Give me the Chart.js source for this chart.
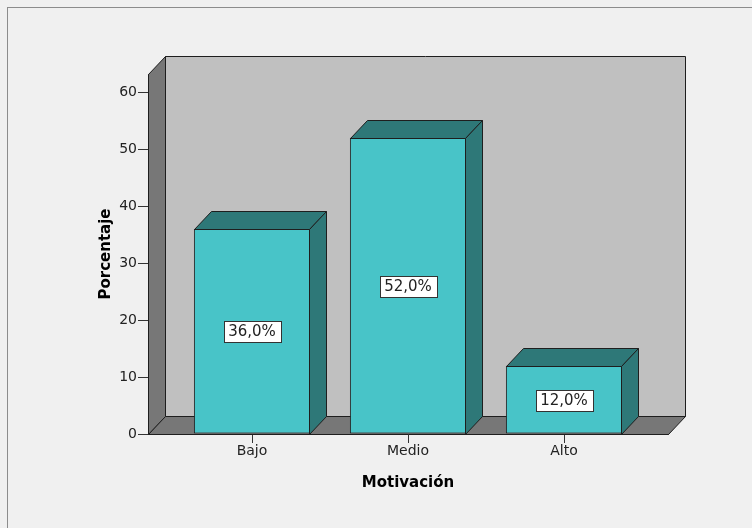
<!DOCTYPE html>
<html>
<head>
<meta charset="utf-8">
<script src="https://cdn.jsdelivr.net/npm/chart.js@4/dist/chart.umd.min.js"></script>
<style>
  html, body { margin: 0; padding: 0; background: #f0f0f0; }
  #chart { display: block; }
</style>
</head>
<body>
<canvas id="chart" width="752" height="528"></canvas>
<script>
// Data
const categories = ['Bajo', 'Medio', 'Alto'];
const percentages = [36.0, 52.0, 12.0];
const yTickValues = [0, 10, 20, 30, 40, 50, 60];

// Look
const FONT = '"DejaVu Sans", Verdana, sans-serif';
const FRONT = '#48c4c8';
const SHADE = '#2e7878';
const EDGE = '#1e1e1e';
const DEPTH = { dx: 17, dy: 18 };

function poly(ctx, pts, fill) {
  ctx.beginPath();
  ctx.moveTo(pts[0][0], pts[0][1]);
  for (let i = 1; i < pts.length; i++) ctx.lineTo(pts[i][0], pts[i][1]);
  ctx.closePath();
  ctx.fillStyle = fill;
  ctx.fill();
  ctx.strokeStyle = EDGE;
  ctx.lineWidth = 1;
  ctx.stroke();
}

const box3d = {
  id: 'box3d',
  beforeDraw(chart) {
    const { ctx, width, height } = chart;
    ctx.save();
    ctx.fillStyle = '#f0f0f0';
    ctx.fillRect(0, 0, width, height);
    ctx.strokeStyle = '#8c8c8c';
    ctx.lineWidth = 1;
    ctx.strokeRect(7.5, 7.5, width + 20, height + 20);
    ctx.restore();
  },
  beforeDatasetsDraw(chart) {
    const { ctx, chartArea: a } = chart;
    const { dx, dy } = DEPTH;
    const L = Math.round(a.left) + 0.5, R = Math.round(a.right) + 0.5;
    const T = Math.round(a.top) + 0.5, B = Math.round(a.bottom) + 0.5;
    ctx.save();
    // back wall
    poly(ctx, [[L + dx, T - dy], [R + dx, T - dy], [R + dx, B - dy], [L + dx, B - dy]], '#c0c0c0');
    // left wall
    poly(ctx, [[L, B], [L, T], [L + dx, T - dy], [L + dx, B - dy]], '#777777');
    // floor
    poly(ctx, [[L, B], [L + dx, B - dy], [R + dx, B - dy], [R, B]], '#777777');
    ctx.restore();
  },
  afterDatasetsDraw(chart) {
    const { ctx } = chart;
    const { dx, dy } = DEPTH;
    const meta = chart.getDatasetMeta(0);
    ctx.save();
    meta.data.forEach((bar, i) => {
      const left = Math.round(bar.x - bar.width / 2) + 0.5;
      const right = Math.round(bar.x + bar.width / 2) - 0.5;
      const top = Math.round(bar.y) + 0.5;
      const bottom = Math.round(bar.base) + 0.5;
      // top face
      poly(ctx, [[left, top], [left + dx, top - dy], [right + dx, top - dy], [right, top]], SHADE);
      // right side face
      poly(ctx, [[right, top], [right + dx, top - dy], [right + dx, bottom - dy], [right, bottom]], SHADE);

      // value label
      const text = percentages[i].toFixed(1).replace('.', ',') + '%';
      ctx.font = '15px ' + FONT;
      const w = Math.round(ctx.measureText(text).width + 9);
      const h = 21;
      const cx = Math.round(bar.x);
      const cy = Math.round((bar.y + bar.base) / 2);
      const bx = Math.round(cx - w / 2) + 0.5;
      const by = Math.round(cy - h / 2) + 0.5;
      ctx.fillStyle = '#ffffff';
      ctx.fillRect(bx, by, w, h);
      ctx.strokeStyle = '#333333';
      ctx.lineWidth = 1;
      ctx.strokeRect(bx, by, w, h);
      ctx.fillStyle = '#222222';
      ctx.textAlign = 'center';
      ctx.textBaseline = 'middle';
      ctx.fillText(text, cx, cy + 1);
    });
    ctx.restore();
  }
};

new Chart(document.getElementById('chart'), {
  type: 'bar',
  data: {
    datasets: [{
      data: categories.map((c, i) => ({ x: i, y: percentages[i] })),
      backgroundColor: FRONT,
      borderColor: EDGE,
      borderWidth: 1,
      borderSkipped: false,
      barPercentage: 0.745,
      categoryPercentage: 1
    }]
  },
  options: {
    responsive: false,
    animation: false,
    devicePixelRatio: 1,
    layout: { padding: { top: 74, right: 84, left: 0, bottom: 0 } },
    plugins: { legend: { display: false }, tooltip: { enabled: false } },
    scales: {
      x: {
        type: 'linear',
        min: -2 / 3,
        max: 8 / 3,
        offset: false,
        afterBuildTicks: (s) => { s.ticks = categories.map((c, i) => ({ value: i })); },
        afterFit: (s) => { s.height = 94; },
        ticks: {
          callback: (v) => categories[v] ?? '',
          font: { family: FONT, size: 14 },
          color: '#222',
          padding: 0,
          autoSkip: false,
          maxRotation: 0
        },
        grid: { offset: false, drawOnChartArea: false, tickLength: 9, color: '#333', lineWidth: 1 },
        border: { display: true, color: EDGE },
        title: {
          display: true,
          text: 'Motivación',
          font: { family: FONT, size: 15, weight: 'bold' },
          color: '#000',
          padding: { top: 0, bottom: 36 }
        }
      },
      y: {
        min: 0,
        max: 63.2,
        afterBuildTicks: (s) => { s.ticks = yTickValues.map((v) => ({ value: v })); },
        afterFit: (s) => { s.width = 148; },
        ticks: { font: { family: FONT, size: 14 }, color: '#222', padding: 1 },
        grid: { drawOnChartArea: false, tickLength: 10, color: '#333', lineWidth: 1 },
        border: { display: true, color: EDGE },
        title: {
          display: true,
          text: 'Porcentaje',
          font: { family: FONT, size: 15, weight: 'bold' },
          color: '#000',
          padding: { top: 97, bottom: 0 }
        }
      }
    }
  },
  plugins: [box3d]
});
</script>
</body>
</html>
